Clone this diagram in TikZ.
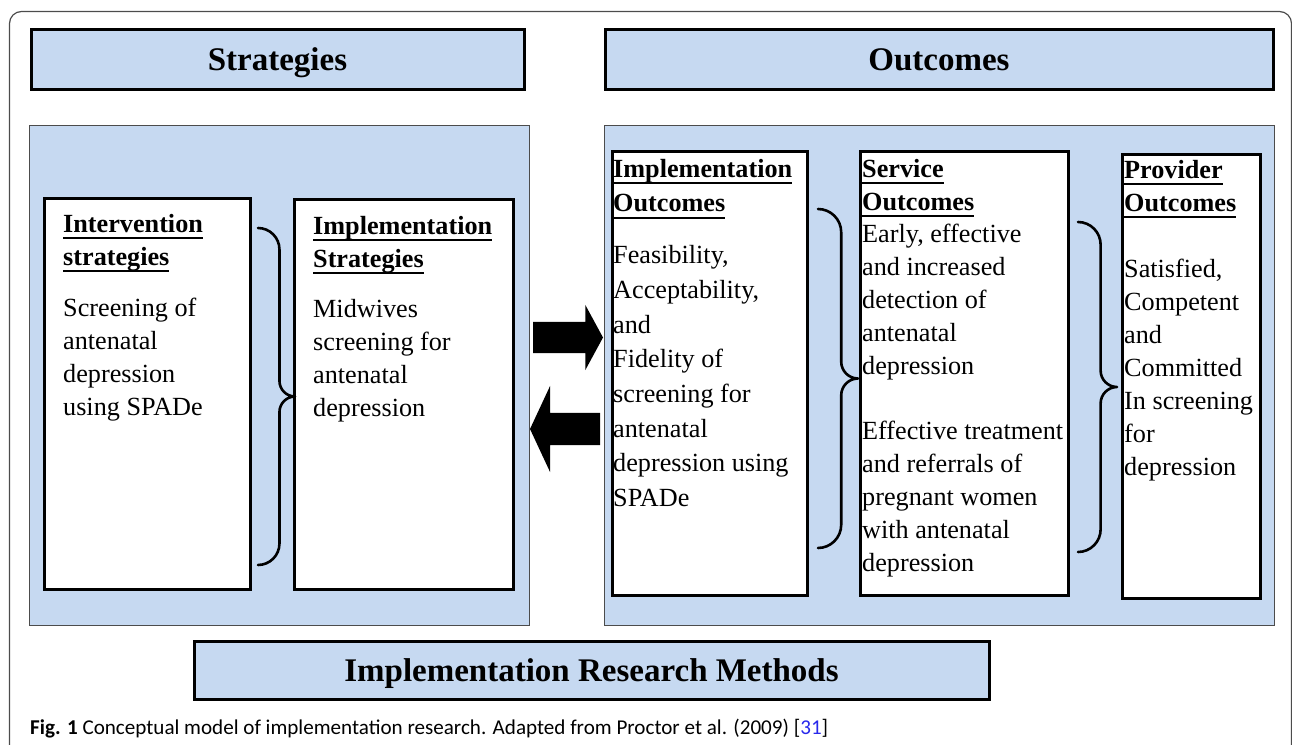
\documentclass[tikz,border=0pt]{standalone}
\usepackage{fontspec}
\setmainfont{Liberation Serif}
\newfontfamily\capfont{Carlito}
\usetikzlibrary{shapes.arrows}

\definecolor{panelblue}{RGB}{198,217,241}
\definecolor{refblue}{RGB}{40,40,235}

% bold underlined heading line (fixed 20pt height so the first baseline is known)
\newsavebox{\hdbox}
\newcommand{\hd}[1]{\sbox{\hdbox}{\textbf{#1}}\rule{0pt}{20pt}\rlap{\rule[-6.8pt]{\wd\hdbox}{1.8pt}}\usebox{\hdbox}}

% curly brace as drawn by the word processor: left end x, top, bottom, width
\newcommand{\wordbrace}[4]{%
  \pgfmathsetmacro{\brv}{#1+0.58*#4}
  \pgfmathsetmacro{\brt}{#1+#4}
  \pgfmathsetmacro{\brm}{(#2+#3)/2}
  \pgfmathsetmacro{\bra}{0.58*#4}
  \pgfmathsetmacro{\brb}{0.42*#4}
  \draw[bracepen] (#1,#2) .. controls ({#1+0.55*\bra},#2) and (\brv,{#2+0.45*\bra}) .. (\brv,{#2+\bra})
    -- (\brv,{\brm-\brb}) .. controls (\brv,{\brm-0.45*\brb}) and ({\brt-0.55*\brb},\brm) .. (\brt,\brm)
    .. controls ({\brt-0.55*\brb},\brm) and (\brv,{\brm+0.45*\brb}) .. (\brv,{\brm+\brb})
    -- (\brv,{#3-\bra}) .. controls (\brv,{#3-0.45*\bra}) and ({#1+0.55*\bra},#3) .. (#1,#3);
}

\tikzset{
  titlebox/.style={draw=black, line width=3pt, fill=panelblue, inner sep=0pt, outer sep=0pt, anchor=north west},
  panel/.style={draw=black!70, line width=1.2pt, fill=panelblue, inner sep=0pt, outer sep=0pt, anchor=north west},
  itembox/.style={draw=black, line width=3pt, fill=white, inner sep=0pt, outer sep=0pt, anchor=north west},
  itemtext/.style={anchor=north west, align=left, inner sep=0pt, font=\fontsize{26.2}{33}\selectfont},
  titletext/.style={anchor=base, inner sep=0pt, font=\fontsize{33}{40}\selectfont\bfseries},
  blockarrow/.style={single arrow, fill=black, draw=none, inner xsep=0pt, outer sep=0pt, anchor=tail},
  bracepen/.style={line width=2.6pt, line cap=round, line join=round}
}

\begin{document}
\begin{tikzpicture}[x=1pt,y=-1pt]
    \useasboundingbox (0,0) rectangle (1292,744);
    \draw[rounded corners=12pt, line width=1.2pt, black!70] (9.5,11.5) rectangle (1291.5,780);

    % headings
    \node[titlebox, minimum width=492.5pt, minimum height=59.5pt] (strathead) at (31.5,29.5) {};
    \node[titlebox, minimum width=667.5pt, minimum height=59.5pt] (outhead) at (605.5,29.5) {};
    \node[titletext] (strathead text) at (277.5,70) {Strategies};
    \node[titletext] (outhead text) at (939,70) {Outcomes};

    % panels
    \node[panel, minimum width=500pt, minimum height=500pt] (leftpanel) at (29.5,125.5) {};
    \node[panel, minimum width=670pt, minimum height=500pt] (rightpanel) at (604.5,125.5) {};

    % strategy boxes
    \node[itembox, minimum width=205.5pt, minimum height=390.5pt] (intv) at (44.5,198.5) {};
    \node[itembox, minimum width=218.5pt, minimum height=389.5pt] (implstrat) at (294.5,199.5) {};
    \node[itemtext] (intv text) at (63,212)
        {\hd{Intervention}\\ \hd{strategies}\\[18pt] Screening of\\ antenatal\\ depression\\ using SPADe};
    \node[itemtext] (implstrat text) at (313,214)
        {\hd{Implementation}\\ \hd{Strategies}\\[17pt] Midwives\\ screening for\\ antenatal\\ depression};
    \wordbrace{258}{228}{565}{37}

    % outcome boxes
    \node[itembox, minimum width=194.5pt, minimum height=443.5pt] (implout) at (612.5,151.5) {};
    \node[itembox, minimum width=207.5pt, minimum height=443.5pt] (servout) at (860.5,151.5) {};
    \node[itembox, minimum width=137.5pt, minimum height=443.5pt] (provout) at (1122.5,154.5) {};
    \node[itemtext, font=\fontsize{26.2}{34.7}\selectfont] (implout text) at (613,157)
        {\hd{Implementation}\\ \hd{Outcomes}\\[17pt] Feasibility,\\ Acceptability,\\ and\\ Fidelity of\\ screening for\\ antenatal\\ depression using\\ SPADe};
    \node[itemtext, font=\fontsize{26.2}{32.85}\selectfont] (servout text) at (862,157)
        {\hd{Service}\\ \hd{Outcomes}\\ Early, effective\\ and increased\\ detection of\\ antenatal\\ depression\\[32.6pt] Effective treatment\\ and referrals of\\ pregnant women\\ with antenatal\\ depression};
    \node[itemtext] (provout text) at (1124,158)
        {\hd{Provider}\\ \hd{Outcomes}\\[33pt] Satisfied,\\ Competent\\ and\\ Committed\\ In screening\\ for\\ depression};
    \wordbrace{818}{209}{548}{40}
    \wordbrace{1078}{222}{552}{39}

    % block arrows between the panels
    \node[blockarrow, minimum height=70pt, minimum width=65pt, inner ysep=15.5pt,
          single arrow head extend=17pt, single arrow tip angle=123] (fwd) at (533,337.5) {};
    \node[blockarrow, minimum height=70pt, minimum width=86pt, inner ysep=16pt,
          single arrow head extend=27pt, single arrow tip angle=130, shape border rotate=180] (back) at (600,429) {};

    % methods
    \node[titlebox, minimum width=794.5pt, minimum height=57.5pt] (methods) at (194.5,641.5) {};
    \node[titletext] (methods text) at (591.5,681) {Implementation Research Methods};

    % caption
    \node[anchor=base west, inner sep=0pt, font=\capfont\fontsize{21.1}{24}\selectfont] (caption) at (30,734)
        {\textbf{Fig. 1} Conceptual model of implementation research. Adapted from Proctor et al. (2009) [\textcolor{refblue}{31}]};
\end{tikzpicture}
\end{document}
